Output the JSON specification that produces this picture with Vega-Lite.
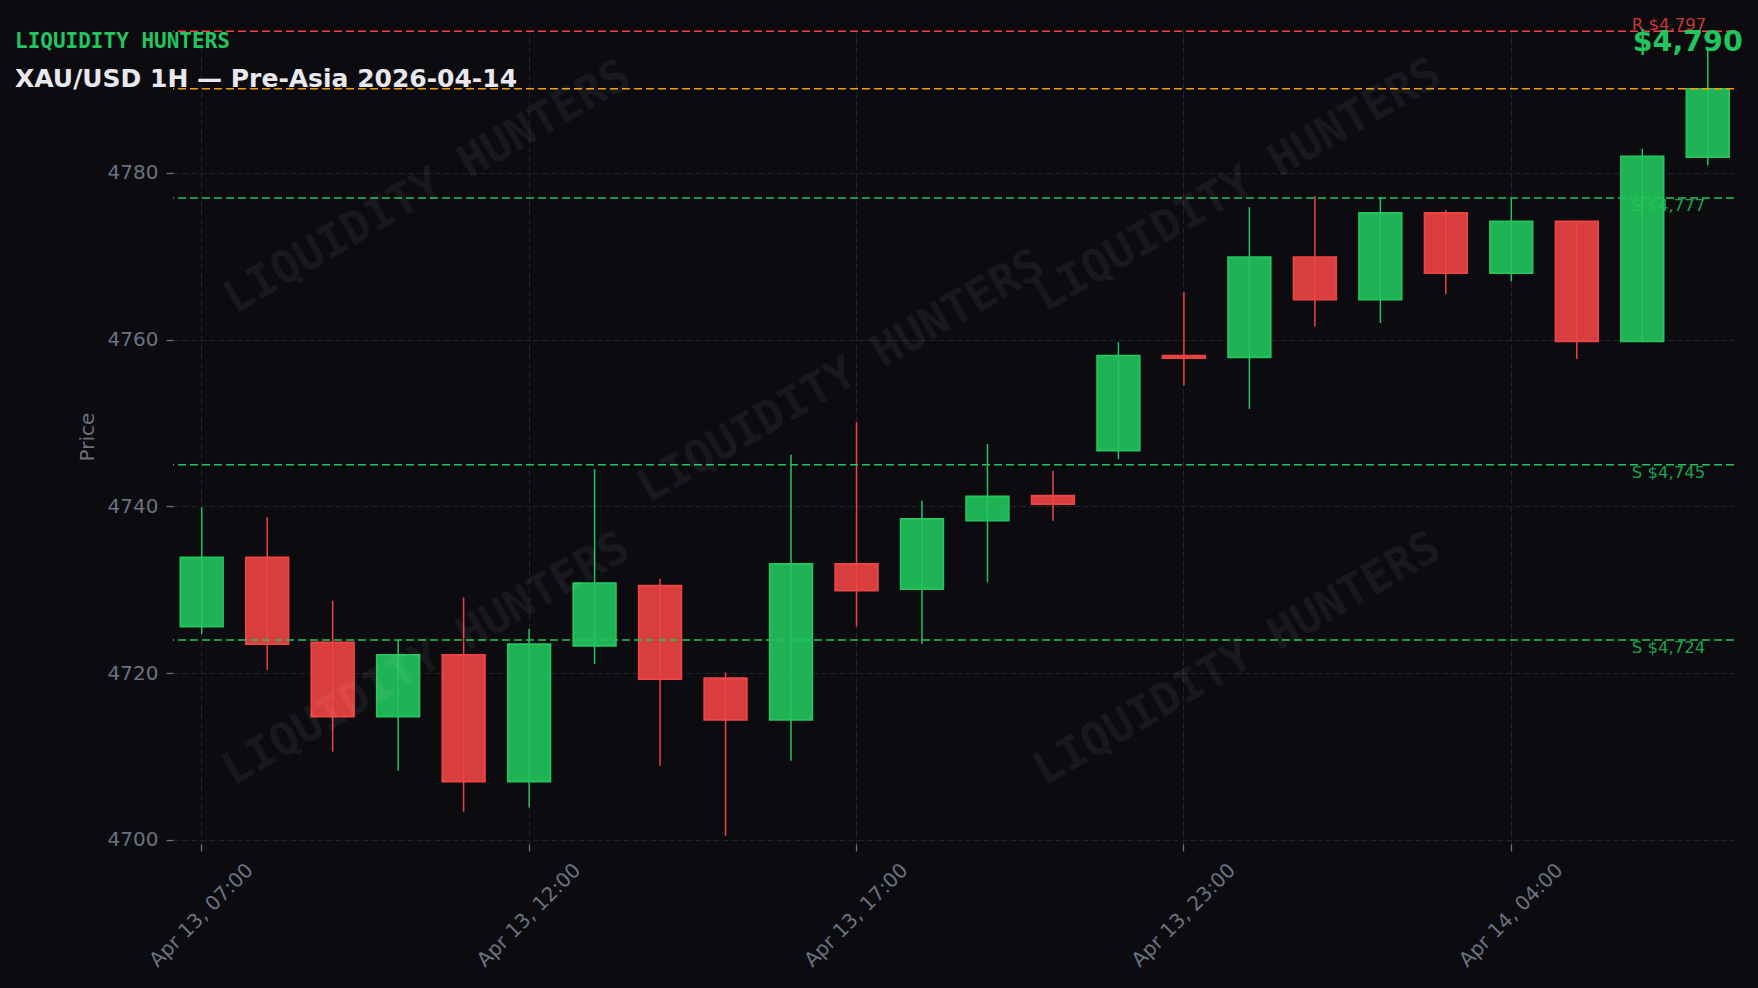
{
  "$schema": "https://vega.github.io/schema/vega-lite/v6.json",
  "background": "#0b0b10",
  "autosize": {"type": "none"},
  "padding": {"left": 173, "top": 29, "right": 24, "bottom": 144},
  "width": 1561,
  "height": 815,
  "title": {
    "text": "LIQUIDITY HUNTERS",
    "subtitle": "XAU/USD 1H — Pre-Asia 2026-04-14",
    "anchor": "start",
    "frame": "group",
    "font": "DejaVu Sans Mono",
    "fontSize": 21,
    "fontWeight": "bold",
    "color": "#22c55e",
    "subtitleFont": "DejaVu Sans",
    "subtitleFontSize": 25,
    "subtitleFontWeight": "bold",
    "subtitleColor": "#e8e8ee",
    "subtitlePadding": 15,
    "dx": -158,
    "offset": -75.5
  },
  "datasets": {
    "candles": [
      {"t": "2026-04-13T07:00", "open": 4725.6, "high": 4739.9, "low": 4724.7, "close": 4733.9},
      {"t": "2026-04-13T08:00", "open": 4733.9, "high": 4738.7, "low": 4720.4, "close": 4723.5},
      {"t": "2026-04-13T09:00", "open": 4723.7, "high": 4728.7, "low": 4710.6, "close": 4714.8},
      {"t": "2026-04-13T10:00", "open": 4714.8, "high": 4724.0, "low": 4708.3, "close": 4722.2},
      {"t": "2026-04-13T11:00", "open": 4722.2, "high": 4729.1, "low": 4703.4, "close": 4707.0},
      {"t": "2026-04-13T12:00", "open": 4707.0, "high": 4725.3, "low": 4703.9, "close": 4723.5},
      {"t": "2026-04-13T13:00", "open": 4723.3, "high": 4744.5, "low": 4721.1, "close": 4730.8},
      {"t": "2026-04-13T14:00", "open": 4730.5, "high": 4731.3, "low": 4708.9, "close": 4719.3},
      {"t": "2026-04-13T15:00", "open": 4719.4, "high": 4720.1, "low": 4700.5, "close": 4714.4},
      {"t": "2026-04-13T16:00", "open": 4714.4, "high": 4746.2, "low": 4709.5, "close": 4733.1},
      {"t": "2026-04-13T17:00", "open": 4733.1, "high": 4750.1, "low": 4725.6, "close": 4729.9},
      {"t": "2026-04-13T18:00", "open": 4730.1, "high": 4740.7, "low": 4723.5, "close": 4738.5},
      {"t": "2026-04-13T19:00", "open": 4738.3, "high": 4747.5, "low": 4730.9, "close": 4741.2},
      {"t": "2026-04-13T20:00", "open": 4741.3, "high": 4744.3, "low": 4738.3, "close": 4740.3},
      {"t": "2026-04-13T21:00", "open": 4746.7, "high": 4759.7, "low": 4745.7, "close": 4758.1},
      {"t": "2026-04-13T23:00", "open": 4758.1, "high": 4765.7, "low": 4754.5, "close": 4757.8},
      {"t": "2026-04-14T00:00", "open": 4757.9, "high": 4775.9, "low": 4751.7, "close": 4769.9},
      {"t": "2026-04-14T01:00", "open": 4769.9, "high": 4777.2, "low": 4761.6, "close": 4764.8},
      {"t": "2026-04-14T02:00", "open": 4764.8, "high": 4777.1, "low": 4762.0, "close": 4775.2},
      {"t": "2026-04-14T03:00", "open": 4775.2, "high": 4775.6, "low": 4765.5, "close": 4768.0},
      {"t": "2026-04-14T04:00", "open": 4768.0, "high": 4776.9, "low": 4767.0, "close": 4774.2},
      {"t": "2026-04-14T05:00", "open": 4774.2, "high": 4774.2, "low": 4757.7, "close": 4759.8},
      {"t": "2026-04-14T06:00", "open": 4759.8, "high": 4782.9, "low": 4759.8, "close": 4782.0},
      {"t": "2026-04-14T07:00", "open": 4781.9, "high": 4795.0, "low": 4780.9, "close": 4790.1}
    ],
    "levels": [
      {"kind": "R", "price": 4797},
      {"kind": "S", "price": 4777},
      {"kind": "S", "price": 4745},
      {"kind": "S", "price": 4724}
    ],
    "watermark": [
      {"i": 3.46, "p": 4778.3},
      {"i": 9.78, "p": 4755.6},
      {"i": 15.84, "p": 4778.5},
      {"i": 3.44, "p": 4721.7},
      {"i": 15.83, "p": 4721.7}
    ]
  },
  "layer": [
    {
      "layer": [
        {
          "data": {"name": "candles"},
          "mark": {"type": "rule", "strokeWidth": 1.5},
          "encoding": {
            "x": {
              "field": "t",
              "type": "ordinal",
              "title": null,
              "scale": {"paddingInner": 0.349, "paddingOuter": 0.094, "align": 0.6},
              "axis": {
                "values": ["2026-04-13T07:00", "2026-04-13T12:00", "2026-04-13T17:00", "2026-04-13T23:00", "2026-04-14T04:00"],
                "labelExpr": "timeFormat(toDate(datum.value), '%b %d, %H:%M')",
                "bandPosition": 0.5,
                "labelAngle": -45,
                "labelAlign": "center",
                "labelBaseline": "middle",
                "labelPadding": 64,
                "labelFont": "DejaVu Sans",
                "labelFontSize": 20,
                "labelColor": "#6b7280",
                "tickColor": "#6b7280",
                "tickSize": 7,
                "tickWidth": 1.3,
                "grid": true,
                "gridColor": "#22232b",
                "gridDash": [6, 3],
                "gridWidth": 1,
                "domain": false
              }
            },
            "y": {
              "field": "low",
              "type": "quantitative",
              "title": "Price",
              "scale": {"domain": [4699.52, 4797.27], "nice": false, "zero": false},
              "axis": {
                "values": [4700, 4720, 4740, 4760, 4780],
                "format": "d",
                "labelFont": "DejaVu Sans",
                "labelFontSize": 20,
                "labelColor": "#6b7280",
                "labelPadding": 8,
                "tickColor": "#6b7280",
                "tickSize": 7,
                "tickWidth": 1.3,
                "gridColor": "#22232b",
                "gridDash": [6, 3],
                "gridWidth": 1,
                "domain": false,
                "titleFont": "DejaVu Sans",
                "titleFontSize": 20,
                "titleFontWeight": "normal",
                "titleColor": "#6b7280",
                "titlePadding": 10
              }
            },
            "y2": {"field": "high"},
            "stroke": {
              "condition": {"test": "datum.close >= datum.open", "value": "#22c55e"},
              "value": "#ef4444"
            }
          }
        },
        {
          "data": {"name": "candles"},
          "mark": {"type": "bar", "strokeWidth": 1.8, "fillOpacity": 0.9},
          "encoding": {
            "x": {"field": "t", "type": "ordinal", "title": null},
            "y": {"field": "open", "type": "quantitative", "title": "Price"},
            "y2": {"field": "close"},
            "fill": {
              "condition": {"test": "datum.close >= datum.open", "value": "#22c55e"},
              "value": "#ef4444"
            },
            "stroke": {
              "condition": {"test": "datum.close >= datum.open", "value": "#22c55e"},
              "value": "#ef4444"
            }
          }
        },
        {
          "data": {"name": "levels"},
          "mark": {"type": "rule", "strokeWidth": 1.5, "strokeDash": [8, 4]},
          "encoding": {
            "y": {"field": "price", "type": "quantitative", "title": "Price"},
            "stroke": {
              "condition": {"test": "datum.kind === 'R'", "value": "#ef4444"},
              "value": "#22c55e"
            }
          }
        },
        {
          "data": {"name": "candles"},
          "transform": [{"filter": "datum.t === '2026-04-14T07:00'"}],
          "mark": {"type": "rule", "strokeWidth": 1.5, "strokeDash": [8, 4], "color": "#f59e0b"},
          "encoding": {
            "y": {"field": "close", "type": "quantitative", "title": "Price"}
          }
        },
        {
          "data": {"name": "levels"},
          "transform": [
            {"filter": "datum.kind === 'R'"},
            {"calculate": "datum.kind + ' $' + format(datum.price, ',')", "as": "lbl"}
          ],
          "mark": {
            "type": "text",
            "align": "left",
            "baseline": "alphabetic",
            "dx": -76,
            "dy": -1.5,
            "font": "DejaVu Sans",
            "fontSize": 16.5,
            "color": "#ef4444",
            "opacity": 0.8
          },
          "encoding": {
            "x": {"datum": "2026-04-14T07:00", "type": "ordinal", "title": null},
            "y": {"field": "price", "type": "quantitative", "title": "Price"},
            "text": {"field": "lbl"}
          }
        },
        {
          "data": {"name": "levels"},
          "transform": [
            {"filter": "datum.kind === 'S'"},
            {"calculate": "datum.kind + ' $' + format(datum.price, ',')", "as": "lbl"}
          ],
          "mark": {
            "type": "text",
            "align": "left",
            "baseline": "top",
            "dx": -76,
            "dy": 0,
            "font": "DejaVu Sans",
            "fontSize": 16.5,
            "color": "#22c55e",
            "opacity": 0.8
          },
          "encoding": {
            "x": {"datum": "2026-04-14T07:00", "type": "ordinal", "title": null},
            "y": {"field": "price", "type": "quantitative", "title": "Price"},
            "text": {"field": "lbl"}
          }
        },
        {
          "data": {"name": "candles"},
          "transform": [{"filter": "datum.t === '2026-04-14T07:00'"}],
          "mark": {
            "type": "text",
            "align": "left",
            "baseline": "alphabetic",
            "dx": -75,
            "dy": -38,
            "font": "DejaVu Sans",
            "fontSize": 28.5,
            "fontWeight": "bold",
            "color": "#22c55e"
          },
          "encoding": {
            "x": {"field": "t", "type": "ordinal", "title": null},
            "y": {"field": "close", "type": "quantitative", "title": "Price"},
            "text": {"field": "close", "format": "$,.0f"}
          }
        }
      ]
    },
    {
      "data": {"name": "watermark"},
      "mark": {
        "type": "text",
        "text": "LIQUIDITY HUNTERS",
        "angle": -30,
        "align": "center",
        "baseline": "middle",
        "font": "DejaVu Sans Mono",
        "fontSize": 45,
        "fontWeight": "bold",
        "color": "#ffffff",
        "opacity": 0.05
      },
      "encoding": {
        "x": {
          "field": "i",
          "type": "quantitative",
          "scale": {"domain": [-0.42, 23.42], "nice": false, "zero": false},
          "axis": null
        },
        "y": {"field": "p", "type": "quantitative", "title": "Price"}
      }
    }
  ],
  "resolve": {"scale": {"x": "independent"}, "axis": {"x": "independent"}},
  "config": {
    "view": {"stroke": null},
    "axis": {"gridColor": "#22232b"}
  }
}
